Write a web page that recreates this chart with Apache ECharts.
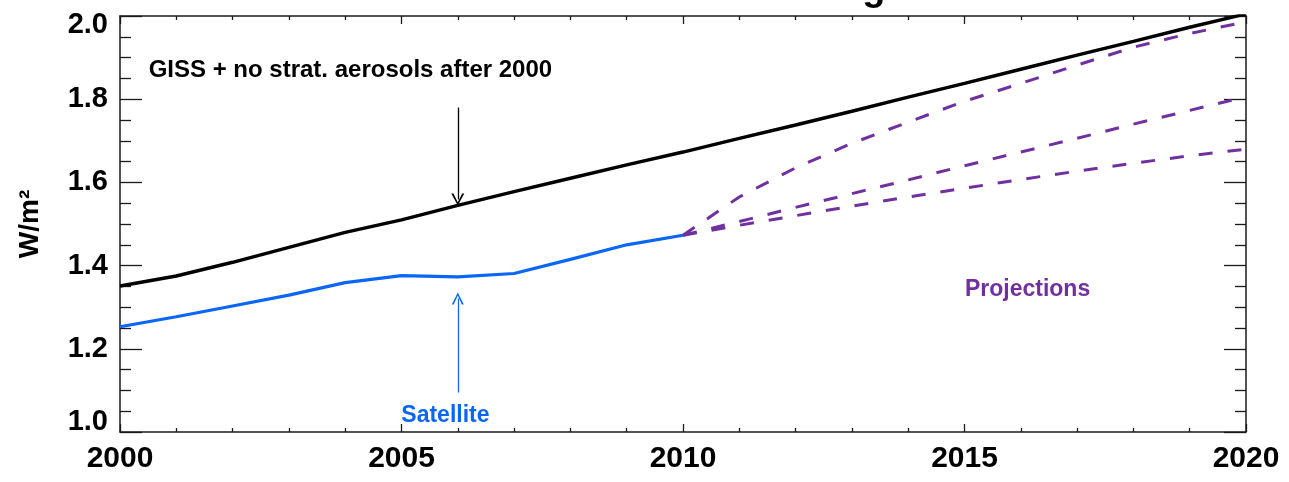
<!DOCTYPE html>
<html>
<head>
<meta charset="utf-8">
<script src="https://cdn.jsdelivr.net/npm/echarts@6/dist/echarts.min.js"></script>
<style>
  html, body { margin: 0; padding: 0; background: #ffffff; }
  #chart { width: 1289px; height: 482px; }
</style>
</head>
<body>
<div id="chart"></div>
<script>
// Net forcing (W/m2): model history, satellite-based estimate and three projections
const modelYears = [2000, 2001, 2002, 2003, 2004, 2005, 2006, 2007, 2008, 2009, 2010,
                    2011, 2012, 2013, 2014, 2015, 2016, 2017, 2018, 2019, 2020];
const gissForcing = [1.351, 1.375, 1.408, 1.444, 1.480, 1.510, 1.545, 1.578, 1.610, 1.642, 1.673,
                     1.706, 1.738, 1.771, 1.805, 1.838, 1.872, 1.906, 1.939, 1.973, 2.005];

const satelliteYears = [2000, 2001, 2002, 2003, 2004, 2005, 2006, 2007, 2008, 2009, 2010];
const satelliteForcing = [1.253, 1.277, 1.303, 1.329, 1.359, 1.376, 1.373, 1.381, 1.415, 1.450, 1.473];

const projectionYears = [2010, 2011, 2012, 2013, 2014, 2015, 2016, 2017, 2018, 2019, 2020];
const projectionHigh = [1.473, 1.565, 1.635, 1.694, 1.745, 1.795, 1.838, 1.882, 1.925, 1.958, 1.986];
const projectionMid  = [1.473, 1.506, 1.540, 1.573, 1.606, 1.640, 1.673, 1.706, 1.740, 1.773, 1.806];
const projectionLow  = [1.473, 1.497, 1.520, 1.543, 1.565, 1.586, 1.607, 1.627, 1.646, 1.664, 1.680];

const xTickStep = 5;
const yTickStep = 0.2;

const BLACK = '#000000';
const BLUE = '#0a66f5';
const PURPLE = '#7030a0';
const FONT = '"Liberation Sans", Arial, Helvetica, sans-serif';

// open "V" arrowhead, tip at the top of the path
const openArrow = 'path://M5,0 L10,10 L8.4,10 L5,2.6 L1.6,10 L0,10 Z';

function pairs(xs, ys) { return xs.map((x, i) => [x, ys[i]]); }

const tickLine = { color: '#1a1a1a', width: 1.3 };
const frameLine = { show: true, onZero: false, lineStyle: { color: '#1a1a1a', width: 1.5 } };
const yLabelFont = { fontSize: 29, fontWeight: 'bold', fontFamily: FONT, color: BLACK };

const chart = echarts.init(document.getElementById('chart'), null, { renderer: 'canvas' });

chart.setOption({
  animation: false,
  backgroundColor: '#ffffff',
  graphic: [{
    // chart title, sitting just above the top edge of the page
    type: 'text',
    x: 706,
    y: 8.5,
    silent: true,
    style: {
      text: 'Net Climate Forcing',
      align: 'center',
      verticalAlign: 'bottom',
      font: 'bold 38px ' + FONT,
      fill: BLACK
    }
  }],
  grid: { left: 120, right: 43, top: 16, bottom: 50, containLabel: false },
  xAxis: [{
    type: 'value',
    position: 'bottom',
    min: 2000, max: 2020, interval: xTickStep,
    axisLine: frameLine,
    axisTick: { show: true, inside: true, length: 8, lineStyle: tickLine },
    minorTick: { show: true, splitNumber: 5, length: 4, lineStyle: tickLine },
    splitLine: { show: false },
    axisLabel: {
      show: true, margin: 12,
      fontSize: 30, fontWeight: 'bold', fontFamily: FONT, color: BLACK,
      formatter: v => String(v)
    }
  }, {
    type: 'value',
    position: 'top',
    min: 2000, max: 2020, interval: xTickStep,
    axisLine: frameLine,
    axisTick: { show: true, inside: true, length: 8, lineStyle: tickLine },
    minorTick: { show: true, splitNumber: 5, length: 4, lineStyle: tickLine },
    splitLine: { show: false },
    axisLabel: { show: false }
  }],
  yAxis: [{
    type: 'value',
    position: 'left',
    min: 1.0, max: 2.0, interval: yTickStep,
    name: 'W/m²',
    nameLocation: 'middle',
    nameRotate: 90,
    nameGap: 76,
    nameTextStyle: { fontSize: 28, fontWeight: 'bold', fontFamily: FONT, color: BLACK },
    axisLine: frameLine,
    axisTick: { show: true, inside: true, length: 22, lineStyle: tickLine },
    minorTick: { show: true, splitNumber: 4, length: 11, lineStyle: tickLine },
    splitLine: { show: false },
    axisLabel: Object.assign({
      show: true, margin: 12,
      verticalAlignMinLabel: 'bottom',
      verticalAlignMaxLabel: 'top',
      formatter: v => {
        const s = v.toFixed(1);
        if (Math.abs(v - 1.0) < 1e-9) return '{lo|' + s + '}';
        if (Math.abs(v - 2.0) < 1e-9) return '{hi|' + s + '}';
        return s;
      },
      rich: {
        lo: Object.assign({ lineHeight: 20 }, yLabelFont),
        hi: Object.assign({ lineHeight: 17 }, yLabelFont)
      }
    }, yLabelFont)
  }, {
    type: 'value',
    position: 'right',
    min: 1.0, max: 2.0, interval: yTickStep,
    axisLine: frameLine,
    axisTick: { show: true, inside: true, length: 22, lineStyle: tickLine },
    minorTick: { show: true, splitNumber: 4, length: 11, lineStyle: tickLine },
    splitLine: { show: false },
    axisLabel: { show: false }
  }],
  series: [{
    name: 'GISS + no strat. aerosols after 2000',
    type: 'line',
    data: pairs(modelYears, gissForcing),
    showSymbol: false,
    lineStyle: { color: BLACK, width: 3.4 },
    z: 3,
    markLine: {
      silent: true,
      symbol: ['none', openArrow],
      symbolSize: [13, 12],
      label: { show: false },
      lineStyle: { color: BLACK, width: 1.3, type: 'solid' },
      data: [[{ coord: [2006, 1.780] }, { coord: [2006, 1.559] }]]
    },
    markPoint: {
      silent: true,
      symbol: 'circle',
      symbolSize: 1,
      itemStyle: { color: 'rgba(0,0,0,0)' },
      label: {
        show: true, position: 'right', distance: 0,
        fontSize: 24, fontWeight: 'bold', fontFamily: FONT, color: BLACK,
        formatter: 'GISS + no strat. aerosols after 2000'
      },
      data: [{ coord: [2000.5, 1.869] }]
    }
  }, {
    name: 'Satellite',
    type: 'line',
    data: pairs(satelliteYears, satelliteForcing),
    showSymbol: false,
    lineStyle: { color: BLUE, width: 3.2 },
    z: 3,
    markLine: {
      silent: true,
      symbol: ['none', openArrow],
      symbolSize: [12, 12],
      label: { show: false },
      lineStyle: { color: BLUE, width: 1.3, type: 'solid' },
      data: [[{ coord: [2006, 1.095] }, { coord: [2006, 1.321] }]]
    },
    markPoint: {
      silent: true,
      symbol: 'circle',
      symbolSize: 1,
      itemStyle: { color: 'rgba(0,0,0,0)' },
      label: {
        show: true, position: 'inside',
        fontSize: 23, fontWeight: 'bold', fontFamily: FONT, color: BLUE,
        formatter: 'Satellite'
      },
      data: [{ coord: [2005.78, 1.039] }]
    }
  }, {
    name: 'Projection (high)',
    type: 'line',
    data: pairs(projectionYears, projectionHigh),
    showSymbol: false,
    lineStyle: { color: PURPLE, width: 3, type: [14, 15] },
    z: 2,
    markPoint: {
      silent: true,
      symbol: 'circle',
      symbolSize: 1,
      itemStyle: { color: 'rgba(0,0,0,0)' },
      label: {
        show: true, position: 'inside',
        fontSize: 23, fontWeight: 'bold', fontFamily: FONT, color: PURPLE,
        formatter: 'Projections'
      },
      data: [{ coord: [2016.12, 1.341] }]
    }
  }, {
    name: 'Projection (middle)',
    type: 'line',
    data: pairs(projectionYears, projectionMid),
    showSymbol: false,
    lineStyle: { color: PURPLE, width: 3, type: [14, 15] },
    z: 2
  }, {
    name: 'Projection (low)',
    type: 'line',
    data: pairs(projectionYears, projectionLow),
    showSymbol: false,
    lineStyle: { color: PURPLE, width: 3, type: [14, 15] },
    z: 2
  }]
});
</script>
</body>
</html>
